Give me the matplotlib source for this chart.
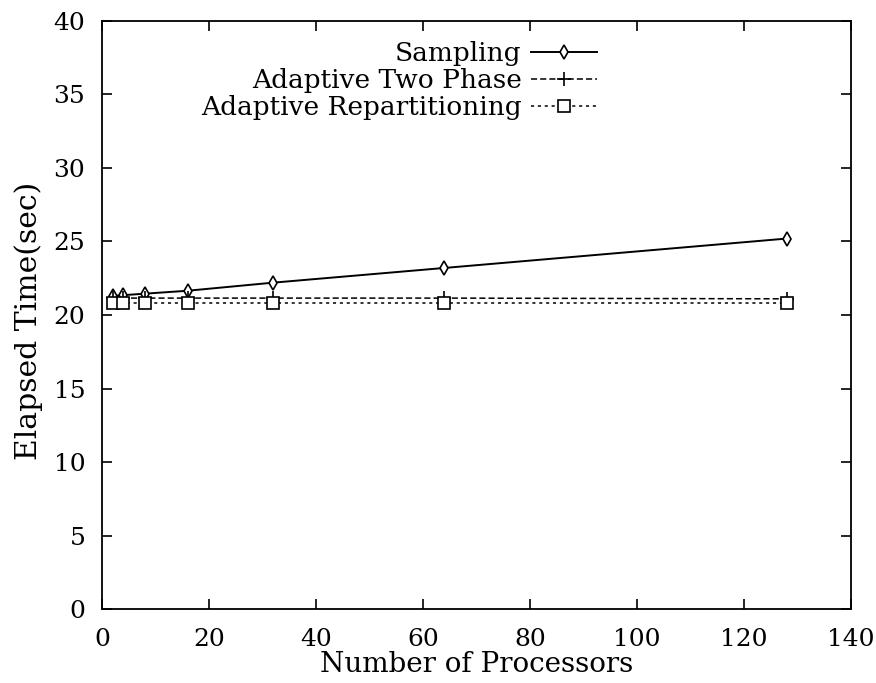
import matplotlib
matplotlib.use("Agg")
import matplotlib.pyplot as plt
from matplotlib.legend_handler import HandlerLine2D

processors = [2, 4, 8, 16, 32, 64, 128]
sampling = [21.3, 21.35, 21.45, 21.65, 22.2, 23.2, 25.2]
two_phase = [21.15, 21.15, 21.15, 21.15, 21.15, 21.15, 21.1]
repartitioning = [20.85, 20.85, 20.85, 20.85, 20.85, 20.85, 20.85]
labels = ["Sampling", "Adaptive Two Phase", "Adaptive Repartitioning"]

plt.rcParams['font.family'] = ['DejaVu Serif']


class OffsetMarkerHandler(HandlerLine2D):
    def create_artists(self, legend, orig_handle, xdescent, ydescent, width,
                       height, fontsize, trans):
        artists = super().create_artists(legend, orig_handle, xdescent, ydescent,
                                         width, height, fontsize, trans)
        for a in artists:
            if len(a.get_xdata()) == 1:
                a.set_xdata([-xdescent + 0.25 * width])
        return artists


fig = plt.figure(figsize=(8.76, 6.83), dpi=100)
ax = fig.add_axes([0.1164, 0.1083, 0.855, 0.861])

ax.plot(processors, sampling, color='black', lw=1.4, ls='-', marker='d',
        mfc='white', mec='black', ms=7, mew=1.2, label=labels[0])
ax.plot(processors, two_phase, color='black', lw=1.1, ls=(0, (4, 2)), marker='+',
        ms=10, mew=1.2, label=labels[1])
ax.plot(processors, repartitioning, color='black', lw=1.1, ls=(0, (2, 2.5)), marker='s',
        mfc='white', mec='black', ms=8, mew=1.2, label=labels[2])

ax.set_xlim(0, 140)
ax.set_ylim(0, 40)
ax.set_xticks(range(0, 141, 20))
ax.set_yticks(range(0, 41, 5))
ax.tick_params(direction='in', length=7, width=1.2, labelsize=18, top=True, right=True)
ax.tick_params(axis='x', pad=13.5)
ax.tick_params(axis='y', pad=12)
for s in ax.spines.values():
    s.set_linewidth(1.3)

ax.set_xlabel("Number of Processors", fontsize=20, labelpad=0.5)
ax.set_ylabel("Elapsed Time(sec)", fontsize=21.5)
ax.yaxis.set_label_coords(-0.079, 0.49)

h = OffsetMarkerHandler()
leg = ax.legend(loc='upper right', bbox_to_anchor=(0.675, 0.984), frameon=False,
                markerfirst=False, fontsize=19, handlelength=2.5, numpoints=1,
                labelspacing=0.08, handletextpad=0.35, borderaxespad=0,
                handler_map={ln: h for ln in ax.get_lines()})
for t in leg.get_texts():
    t.set_ha('right')

fig.savefig("out.png", dpi=100)
